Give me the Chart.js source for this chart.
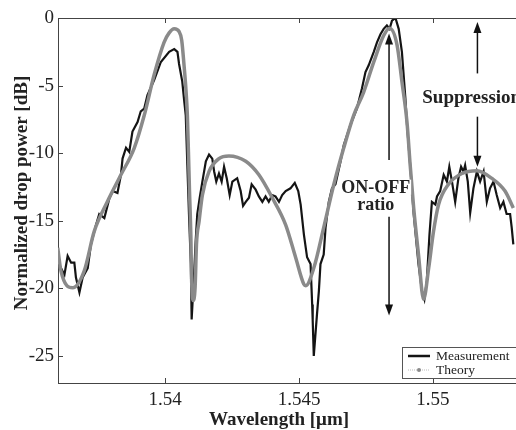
<!DOCTYPE html>
<html lang="en">
<head>
    <meta charset="UTF-8">
    <title>Drop port spectrum</title>
    <script src="https://cdn.jsdelivr.net/npm/chart.js"></script>
    <style>
        body {
            margin: 0;
            background: #fff;
        }
        #wrap {
            width: 516px;
            height: 430px;
        }
    </style>
</head>
<body>
    <div id="wrap"><canvas id="drop-chart" width="516" height="430"></canvas></div>
    <script>
        // measured drop port spectrum (wavelength in um, power in dB)
        var measWl = [
            1.53599, 1.53611, 1.53624, 1.53636, 1.53649, 1.53661, 1.53667, 1.5368, 1.53692, 1.53711,
            1.53723, 1.53742, 1.53754, 1.53773, 1.53791, 1.53804, 1.53822, 1.53835, 1.53841, 1.53854,
            1.53866, 1.53878, 1.53897, 1.53909, 1.53922, 1.53934, 1.53959, 1.53984, 1.54015, 1.54034,
            1.54046, 1.54052, 1.54064, 1.54071, 1.54077, 1.54083, 1.54089, 1.54096, 1.54099, 1.54108,
            1.54114, 1.5412, 1.54129, 1.54139, 1.54152, 1.54164, 1.54176, 1.54183, 1.54191, 1.54201,
            1.54211, 1.5422, 1.5423, 1.54241, 1.54251, 1.54269, 1.54282, 1.54291, 1.54301, 1.54313,
            1.54323, 1.54338, 1.5435, 1.54363, 1.54375, 1.54387, 1.544, 1.54412, 1.54425, 1.54437,
            1.5445, 1.54468, 1.54484, 1.54497, 1.54506, 1.54518, 1.5453, 1.54543, 1.54549, 1.54551,
            1.54555, 1.54567, 1.54574, 1.5458, 1.54592, 1.54599, 1.54611, 1.54623, 1.54636, 1.54655,
            1.54667, 1.54692, 1.54716, 1.54735, 1.54748, 1.5476, 1.54779, 1.54791, 1.54804, 1.54816,
            1.54828, 1.54838, 1.54847, 1.5486, 1.54872, 1.54884, 1.54897, 1.54903, 1.54915, 1.54928,
            1.54946, 1.54959, 1.54968, 1.54977, 1.54987, 1.54996, 1.55009, 1.55015, 1.55027, 1.5504,
            1.55052, 1.55061, 1.55071, 1.55083, 1.55095, 1.55105, 1.55114, 1.5512, 1.5513, 1.55139,
            1.55151, 1.55164, 1.55176, 1.55189, 1.55201, 1.55213, 1.55226, 1.55238, 1.55251, 1.55263,
            1.55275, 1.55288, 1.55294, 1.553
        ];
        var measDb = [
            -18.0, -18.5, -19.0, -17.6, -18.1, -18.1, -19.2, -20.3, -19.2, -18.5,
            -16.75, -15.3, -14.5, -14.8, -13.4, -12.8, -12.95, -11.6, -10.4, -9.6,
            -9.9, -8.4, -7.7, -6.9, -6.7, -5.7, -4.6, -3.25, -2.5, -2.3,
            -2.5, -3.4, -4.7, -6.1, -7.2, -10.9, -14.5, -18.2, -22.3, -19.0,
            -16.5, -14.5, -13.3, -12.1, -10.6, -10.1, -10.4, -11.35, -12.1, -11.5,
            -12.1, -11.0, -11.85, -13.1, -12.1, -11.85, -12.8, -13.9, -13.6, -13.3,
            -12.3, -12.7, -13.2, -13.6, -13.2, -13.6, -13.1, -13.2, -13.6, -13.1,
            -12.8, -12.6, -12.2, -12.8, -13.8, -16.0, -17.7, -18.2, -21.2, -22.4,
            -25.0, -21.9, -20.2, -18.2, -17.5, -15.5, -13.6, -12.6, -12.3, -10.6,
            -9.4, -7.9, -6.7, -5.2, -4.0, -3.5, -2.5, -1.8, -1.2, -0.8,
            -0.55, -0.8, -0.2, 0, -0.8, -2.5, -5.95, -7.9, -10.9, -14.5,
            -18.2, -20.2, -20.8, -19.45, -16.0, -13.6, -13.8, -13.2, -12.8, -11.6,
            -12.1, -11.0, -12.1, -13.6, -11.85, -11.0, -11.35, -10.9, -12.1, -14.4,
            -12.6, -11.35, -12.1, -11.35, -13.6, -12.6, -12.1, -13.1, -14.05, -13.6,
            -14.5, -14.5, -15.5, -16.75
        ];

        // calculated response
        var theoryWl = [
            1.53599, 1.53611, 1.53655, 1.53698, 1.53735, 1.53785, 1.53835, 1.53885, 1.53922, 1.53959,
            1.53996, 1.54015, 1.54034, 1.54052, 1.54062, 1.54071, 1.54077, 1.54083, 1.54087, 1.54091,
            1.54096, 1.54099, 1.54104, 1.54112, 1.54117, 1.54127, 1.54139, 1.54164, 1.54201, 1.54238,
            1.54301, 1.5435, 1.544, 1.5445, 1.54487, 1.54518, 1.54525, 1.54555, 1.54592, 1.5463,
            1.54667, 1.54704, 1.54741, 1.54779, 1.54816, 1.54838, 1.54866, 1.54884, 1.54903, 1.54915,
            1.54928, 1.54946, 1.54965, 1.54984, 1.55002, 1.55021, 1.55058, 1.55108, 1.55164, 1.55219,
            1.55269, 1.553
        ];
        var theoryDb = [
            -17.0, -18.7, -19.95, -18.7, -15.8, -13.56, -11.6, -9.6, -7.2, -4.2,
            -1.8, -1.1, -0.8, -1.0, -1.66, -3.6, -5.1, -7.2, -9.9, -12.8,
            -16.1, -19.45, -20.9, -19.9, -16.75, -15.0, -13.1, -11.35, -10.4, -10.2,
            -10.6, -11.6, -13.3, -15.3, -17.7, -19.7, -19.8, -18.5, -15.5, -12.3,
            -9.6, -7.2, -5.5, -3.25, -1.3, -0.75, -2.0, -4.7, -7.7, -10.9,
            -14.05, -17.5, -20.8, -18.5, -15.8, -13.8, -12.3, -11.5, -11.3, -11.85,
            -12.8, -14.05
        ];

        var xTicks = [1.54, 1.545, 1.55];
        var yTicks = [-25, -20, -15, -10, -5, 0];

        var SERIF = '"Liberation Serif", "Times New Roman", serif';
        var MEAS_COLOR = '#141414';
        var THEORY_COLOR = '#8a8a8a';

        function toPoints(xs, ys) {
            return xs.map(function(x, i) {
                return { x: x, y: ys[i] };
            });
        }

        function drawArrow(ctx, x, yFrom, yTip) {
            var dir = yTip < yFrom ? -1 : 1;
            ctx.beginPath();
            ctx.moveTo(x, yFrom);
            ctx.lineTo(x, yTip - dir * 8);
            ctx.stroke();
            ctx.beginPath();
            ctx.moveTo(x, yTip);
            ctx.lineTo(x - 4, yTip - dir * 11);
            ctx.lineTo(x + 4, yTip - dir * 11);
            ctx.closePath();
            ctx.fill();
        }

        // frame, inner ticks, arrows, labels and the boxed legend
        var decorations = {
            id: 'decorations',
            afterDatasetsDraw: function(chart) {
                var ctx = chart.ctx;
                var area = chart.chartArea;
                var xs = chart.scales.x;
                var ys = chart.scales.y;
                ctx.save();

                // top frame line and inward ticks
                ctx.strokeStyle = '#444';
                ctx.lineWidth = 1;
                ctx.beginPath();
                ctx.moveTo(area.left, area.top + 0.5);
                ctx.lineTo(area.right, area.top + 0.5);
                xTicks.forEach(function(v) {
                    var px = Math.round(xs.getPixelForValue(v)) + 0.5;
                    ctx.moveTo(px, area.top);
                    ctx.lineTo(px, area.top + 5);
                    ctx.moveTo(px, area.bottom);
                    ctx.lineTo(px, area.bottom - 5);
                });
                yTicks.forEach(function(v) {
                    var py = Math.round(ys.getPixelForValue(v)) + 0.5;
                    ctx.moveTo(area.left, py);
                    ctx.lineTo(area.left + 5, py);
                });
                ctx.stroke();

                // ON-OFF ratio arrows
                ctx.strokeStyle = '#111';
                ctx.fillStyle = '#111';
                ctx.lineWidth = 1.5;
                var ax = xs.getPixelForValue(1.54836);
                drawArrow(ctx, ax, ys.getPixelForValue(-10.5), ys.getPixelForValue(-1.15));
                drawArrow(ctx, ax, ys.getPixelForValue(-14.7), ys.getPixelForValue(-22.0));

                // suppression arrows
                var sx = xs.getPixelForValue(1.55166);
                drawArrow(ctx, sx, ys.getPixelForValue(-4.1), ys.getPixelForValue(-0.3));
                drawArrow(ctx, sx, ys.getPixelForValue(-7.3), ys.getPixelForValue(-11.0));

                // annotation text
                ctx.font = 'bold 18px ' + SERIF;
                ctx.textBaseline = 'alphabetic';
                ctx.textAlign = 'center';
                var tx = xs.getPixelForValue(1.54786);
                var t1 = ys.getPixelForValue(-12.92);
                var t2 = ys.getPixelForValue(-14.18);
                var w1 = ctx.measureText('ON-OFF').width;
                var w2 = ctx.measureText('ratio').width;
                ctx.fillStyle = '#fff';
                ctx.fillRect(tx - w1 / 2 - 1, t1 - 13, w1 + 2, 15);
                ctx.fillRect(tx - w2 / 2 - 1, t2 - 13, w2 + 2, 15);
                ctx.fillStyle = '#222';
                ctx.fillText('ON-OFF', tx, t1);
                ctx.fillText('ratio', tx, t2);

                ctx.font = 'bold 19px ' + SERIF;
                ctx.textAlign = 'left';
                ctx.fillText('Suppression', xs.getPixelForValue(1.5496), ys.getPixelForValue(-6.3));

                // legend box in the lower right corner
                var lx = area.right - 114;
                var ly = area.bottom - 36;
                ctx.fillStyle = '#fff';
                ctx.fillRect(lx, ly, 130, 32);
                ctx.strokeStyle = '#555';
                ctx.lineWidth = 1;
                ctx.strokeRect(lx + 0.5, ly + 0.5, 130, 31);

                ctx.strokeStyle = MEAS_COLOR;
                ctx.lineWidth = 2.5;
                ctx.beginPath();
                ctx.moveTo(lx + 6, ly + 9);
                ctx.lineTo(lx + 28, ly + 9);
                ctx.stroke();

                ctx.strokeStyle = '#bbb';
                ctx.lineWidth = 1;
                ctx.setLineDash([1, 1]);
                ctx.beginPath();
                ctx.moveTo(lx + 6, ly + 23);
                ctx.lineTo(lx + 28, ly + 23);
                ctx.stroke();
                ctx.setLineDash([]);
                ctx.fillStyle = THEORY_COLOR;
                ctx.beginPath();
                ctx.arc(lx + 17, ly + 23, 2, 0, Math.PI * 2);
                ctx.fill();

                ctx.fillStyle = '#222';
                ctx.font = '13.5px ' + SERIF;
                ctx.textBaseline = 'middle';
                ctx.fillText('Measurement', lx + 34, ly + 9);
                ctx.fillText('Theory', lx + 34, ly + 23);

                // axis titles
                ctx.font = 'bold 19px ' + SERIF;
                ctx.textAlign = 'center';
                ctx.textBaseline = 'alphabetic';
                ctx.fillText('Wavelength [\u03bcm]', 279, 425);
                ctx.translate(27, 193);
                ctx.rotate(-Math.PI / 2);
                ctx.fillText('Normalized drop power [dB]', 0, 0);

                ctx.restore();
            }
        };

        var ctx = document.getElementById('drop-chart').getContext('2d');
        var chart = new Chart(ctx, {
            type: 'scatter',
            data: {
                datasets: [{
                    label: 'Theory',
                    data: toPoints(theoryWl, theoryDb),
                    showLine: true,
                    borderColor: THEORY_COLOR,
                    borderWidth: 3.5,
                    pointRadius: 0,
                    cubicInterpolationMode: 'monotone',
                    order: 0
                }, {
                    label: 'Measurement',
                    data: toPoints(measWl, measDb),
                    showLine: true,
                    borderColor: MEAS_COLOR,
                    borderWidth: 2.2,
                    pointRadius: 0,
                    tension: 0,
                    order: 1
                }]
            },
            options: {
                responsive: false,
                animation: false,
                layout: {
                    padding: { top: 18, right: 0, left: 0, bottom: 0 }
                },
                plugins: {
                    legend: { display: false },
                    tooltip: { enabled: false }
                },
                scales: {
                    x: {
                        type: 'linear',
                        min: 1.536,
                        max: 1.5531,
                        afterFit: function(scale) { scale.height = 47; },
                        afterBuildTicks: function(scale) {
                            scale.ticks = xTicks.map(function(v) { return { value: v }; });
                        },
                        grid: { display: false, drawTicks: false },
                        border: { display: true, color: '#444', width: 1 },
                        ticks: {
                            autoSkip: false,
                            maxRotation: 0,
                            padding: 6,
                            color: '#222',
                            font: { family: SERIF, size: 19 },
                            callback: function(v) { return String(v); }
                        }
                    },
                    y: {
                        min: -27,
                        max: 0,
                        afterFit: function(scale) { scale.width = 58; },
                        afterBuildTicks: function(scale) {
                            scale.ticks = yTicks.map(function(v) { return { value: v }; });
                        },
                        grid: { display: false, drawTicks: false },
                        border: { display: true, color: '#444', width: 1 },
                        ticks: {
                            autoSkip: false,
                            padding: 4,
                            color: '#222',
                            font: { family: SERIF, size: 19 },
                            callback: function(v) { return String(v); }
                        }
                    }
                }
            },
            plugins: [decorations]
        });
    </script>
</body>
</html>
